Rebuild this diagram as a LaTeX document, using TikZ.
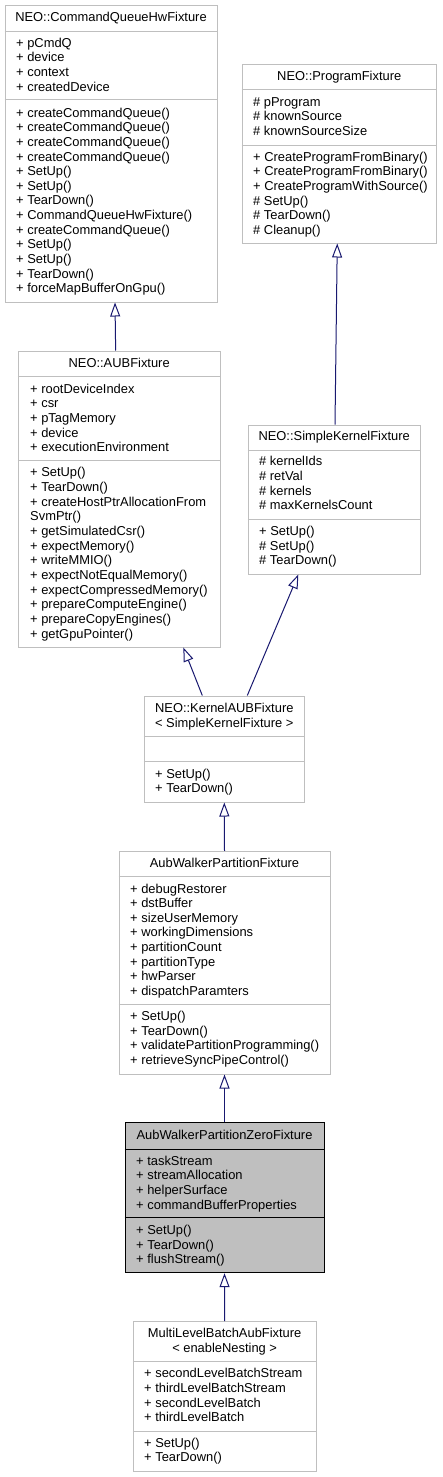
\documentclass[tikz,border=0pt]{standalone}
\usepackage{fontspec}
\setmainfont{Liberation Sans}
\usetikzlibrary{arrows.meta}
\definecolor{Frame}{HTML}{BFBFBF}
\definecolor{Focus}{HTML}{BFBFBF}
\definecolor{Edge}{HTML}{191970}

\begin{document}
\begin{tikzpicture}[x=1pt,y=-1pt,
    cls/.style={draw=Frame,line width=1pt,fill=white,inner sep=0pt},
    sep/.style={draw=Frame,line width=1pt},
    txt/.style={font=\fontsize{12.9}{14.6}\selectfont,inner sep=0pt,text height=12pt,text depth=3pt},
    mem/.style={txt,anchor=west},
    inh/.style={Edge,line width=1pt,-{Triangle[open,length=14pt,width=10pt]}}]
  \fill[white] (0,0) rectangle (442,1477);
  \useasboundingbox (0,0) rectangle (442,1477);

  % NEO::CommandQueueHwFixture
  \node[cls,minimum width=212,minimum height=296] (cqhw) at (111,154) {};
  \draw[sep] (cqhw.west |- 0,32) -- (cqhw.east |- 0,32);
  \draw[sep] (cqhw.west |- 0,100) -- (cqhw.east |- 0,100);
  \node[txt] (cqhw-t) at (111,17.3) {NEO::CommandQueueHwFixture};
  \foreach \s [count=\i] in {+ pCmdQ,+ device,+ context,+ createdDevice}
    \node[mem] (cqhw-a\i) at (16,{42.7+14.62*(\i-1)}) {\s};
  \foreach \s [count=\i] in {+ createCommandQueue(),+ createCommandQueue(),+ createCommandQueue(),+ createCommandQueue(),+ SetUp(),+ SetUp(),+ TearDown(),+ CommandQueueHwFixture(),+ createCommandQueue(),+ SetUp(),+ SetUp(),+ TearDown(),+ forceMapBufferOnGpu()}
    \node[mem] (cqhw-m\i) at (16,{112.7+14.62*(\i-1)}) {\s};

  % NEO::ProgramFixture
  \node[cls,minimum width=194.5,minimum height=178] (pf) at (339.25,154) {};
  \draw[sep] (pf.west |- 0,90) -- (pf.east |- 0,90);
  \draw[sep] (pf.west |- 0,145) -- (pf.east |- 0,145);
  \node[txt] (pf-t) at (339.25,76.3) {NEO::ProgramFixture};
  \foreach \s [count=\i] in {\# pProgram,\# knownSource,\# knownSourceSize}
    \node[mem] (pf-a\i) at (253,{101.7+14.62*(\i-1)}) {\s};
  \foreach \s [count=\i] in {+ CreateProgramFromBinary(),+ CreateProgramFromBinary(),+ CreateProgramWithSource(),\# SetUp(),\# TearDown(),\# Cleanup()}
    \node[mem] (pf-m\i) at (253,{156.7+14.62*(\i-1)}) {\s};

  % NEO::AUBFixture
  \node[cls,minimum width=201.7,minimum height=296] (aub) at (119.15,499) {};
  \draw[sep] (aub.west |- 0,376.7) -- (aub.east |- 0,376.7);
  \draw[sep] (aub.west |- 0,460.7) -- (aub.east |- 0,460.7);
  \node[txt] (aub-t) at (119.15,362.7) {NEO::AUBFixture};
  \foreach \s [count=\i] in {+ rootDeviceIndex,+ csr,+ pTagMemory,+ device,+ executionEnvironment}
    \node[mem] (aub-a\i) at (30,{388.7+14.62*(\i-1)}) {\s};
  \foreach \s [count=\i] in {+ SetUp(),+ TearDown(),+ createHostPtrAllocationFrom,SvmPtr(),+ getSimulatedCsr(),+ expectMemory(),+ writeMMIO(),+ expectNotEqualMemory(),+ expectCompressedMemory(),+ prepareComputeEngine(),+ prepareCopyEngines(),+ getGpuPointer()}
    \node[mem] (aub-m\i) at (30,{472.3+14.67*(\i-1)}) {\s};

  % NEO::SimpleKernelFixture
  \node[cls,minimum width=171.7,minimum height=149] (skf) at (334.15,499.5) {};
  \draw[sep] (skf.west |- 0,450) -- (skf.east |- 0,450);
  \draw[sep] (skf.west |- 0,519.3) -- (skf.east |- 0,519.3);
  \node[txt] (skf-t) at (334.15,436.3) {NEO::SimpleKernelFixture};
  \foreach \s [count=\i] in {\# kernelIds,\# retVal,\# kernels,\# maxKernelsCount}
    \node[mem] (skf-a\i) at (259,{461.3+14.62*(\i-1)}) {\s};
  \foreach \s [count=\i] in {+ SetUp(),\# SetUp(),\# TearDown()}
    \node[mem] (skf-m\i) at (259,{531+14.62*(\i-1)}) {\s};

  % NEO::KernelAUBFixture
  \node[cls,minimum width=160,minimum height=106] (kaub) at (224.3,749) {};
  \draw[sep] (kaub.west |- 0,736.7) -- (kaub.east |- 0,736.7);
  \draw[sep] (kaub.west |- 0,761.7) -- (kaub.east |- 0,761.7);
  \foreach \s [count=\i] in {NEO::KernelAUBFixture,< SimpleKernelFixture >}
    \node[txt] (kaub-t\i) at (224.3,{708.3+14.4*(\i-1)}) {\s};
  \foreach \s [count=\i] in {+ SetUp(),+ TearDown()}
    \node[mem] (kaub-m\i) at (155,{773.7+14.62*(\i-1)}) {\s};

  % AubWalkerPartitionFixture
  \node[cls,minimum width=211,minimum height=222.7] (awpf) at (224.5,962.65) {};
  \draw[sep] (awpf.west |- 0,876.7) -- (awpf.east |- 0,876.7);
  \draw[sep] (awpf.west |- 0,1004.3) -- (awpf.east |- 0,1004.3);
  \node[txt] (awpf-t) at (224.5,862.7) {AubWalkerPartitionFixture};
  \foreach \s [count=\i] in {+ debugRestorer,+ dstBuffer,+ sizeUserMemory,+ workingDimensions,+ partitionCount,+ partitionType,+ hwParser,+ dispatchParamters}
    \node[mem] (awpf-a\i) at (130,{888.7+14.57*(\i-1)}) {\s};
  \foreach \s [count=\i] in {+ SetUp(),+ TearDown(),+ validatePartitionProgramming(),+ retrieveSyncPipeControl()}
    \node[mem] (awpf-m\i) at (130,{1016+14.67*(\i-1)}) {\s};

  % AubWalkerPartitionZeroFixture
  \node[cls,draw=black,fill=Focus,minimum width=199,minimum height=150] (awpzf) at (224.5,1197.7) {};
  \draw[sep,draw=black] (awpzf.west |- 0,1149) -- (awpzf.east |- 0,1149);
  \draw[sep,draw=black] (awpzf.west |- 0,1217.7) -- (awpzf.east |- 0,1217.7);
  \node[txt] (awpzf-t) at (224.5,1134.7) {AubWalkerPartitionZeroFixture};
  \foreach \s [count=\i] in {+ taskStream,+ streamAllocation,+ helperSurface,+ commandBufferProperties}
    \node[mem] (awpzf-a\i) at (136,{1160.7+14.62*(\i-1)}) {\s};
  \foreach \s [count=\i] in {+ SetUp(),+ TearDown(),+ flushStream()}
    \node[mem] (awpzf-m\i) at (136,{1230+14.62*(\i-1)}) {\s};

  % MultiLevelBatchAubFixture
  \node[cls,minimum width=182.7,minimum height=149.3] (mlbaf) at (224.65,1396.35) {};
  \draw[sep] (mlbaf.west |- 0,1361.7) -- (mlbaf.east |- 0,1361.7);
  \draw[sep] (mlbaf.west |- 0,1431.7) -- (mlbaf.east |- 0,1431.7);
  \foreach \s [count=\i] in {MultiLevelBatchAubFixture,< enableNesting >}
    \node[txt] (mlbaf-t\i) at (224.65,{1333.3+15*(\i-1)}) {\s};
  \foreach \s [count=\i] in {+ secondLevelBatchStream,+ thirdLevelBatchStream,+ secondLevelBatch,+ thirdLevelBatch}
    \node[mem] (mlbaf-a\i) at (144,{1373.3+14.62*(\i-1)}) {\s};
  \foreach \s [count=\i] in {+ SetUp(),+ TearDown()}
    \node[mem] (mlbaf-m\i) at (144,{1442.7+14.62*(\i-1)}) {\s};

  % inheritance
  \draw[inh] ([xshift=-3.5pt]aub.north) -- ([xshift=4pt]cqhw.south);
  \draw[inh] ([xshift=0.85pt]skf.north) -- ([xshift=-2pt]pf.south);
  \draw[inh] ([xshift=-22pt]kaub.north) -- ([xshift=64.2pt]aub.south);
  \draw[inh] ([xshift=23pt]kaub.north) -- ([xshift=-35.85pt]skf.south);
  \draw[inh] (awpf.north) -- (kaub.south);
  \draw[inh] (awpzf.north) -- (awpf.south);
  \draw[inh] (mlbaf.north) -- (awpzf.south);
\end{tikzpicture}
\end{document}
